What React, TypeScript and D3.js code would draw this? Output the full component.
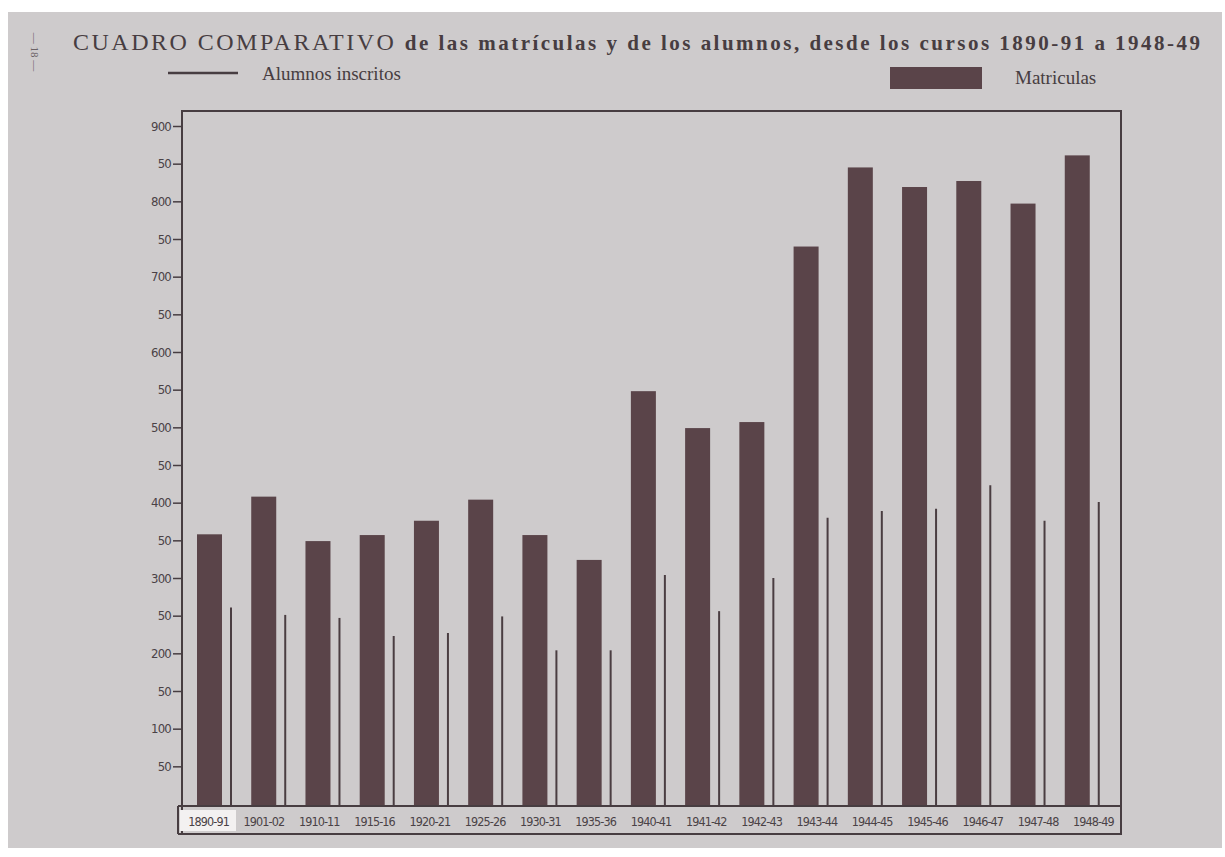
import * as d3 from "d3";
import { useEffect, useRef } from "react";

// cursos escolares
const cursos = [
  "1890-91", "1901-02", "1910-11", "1915-16", "1920-21", "1925-26",
  "1930-31", "1935-36", "1940-41", "1941-42", "1942-43", "1943-44",
  "1944-45", "1945-46", "1946-47", "1947-48", "1948-49",
];

// matriculas (barras)
const matriculas = [358, 408, 349, 357, 376, 404, 357, 324, 548, 499, 507, 740, 845, 819, 827, 797, 861];

// alumnos inscritos (lineas finas)
const alumnos = [261, 251, 247, 223, 227, 249, 204, 204, 304, 256, 300, 380, 389, 392, 423, 376, 401];

const yTicks = [50, 100, 150, 200, 250, 300, 350, 400, 450, 500, 550, 600, 650, 700, 750, 800, 850, 900];

const App = () => {
  const svgRef = useRef<SVGSVGElement>(null);

  useEffect(() => {
    const svg = d3.select(svgRef.current);
    svg.selectAll("*").remove();

    const width = 1225;
    const height = 857;
    const ink = "#473d41";
    const barColor = "#5a4449";
    const serif = "'Liberation Serif', 'DejaVu Serif', serif";
    const cond = "'DejaVu Sans Condensed', 'DejaVu Sans', sans-serif";

    svg.attr("width", width).attr("height", height);

    // paper
    svg.append("rect").attr("width", width).attr("height", height).attr("fill", "#ffffff");
    svg.append("rect")
      .attr("x", 8).attr("y", 12).attr("width", 1214).attr("height", 836)
      .attr("fill", "#cecbcc");

    const left = 182;
    const right = 1121;
    const top = 111;
    const bottom = 806;

    const y = d3.scaleLinear().domain([0, 900]).range([804, 126]);
    const x = d3.scaleBand<string>().domain(cursos).range([186, 1108]);
    const xLabel = d3.scaleBand<string>().domain(cursos).range([181, 1121]);

    // title
    const title = svg.append("text")
      .attr("x", 73).attr("y", 50)
      .attr("fill", ink)
      .style("font-family", serif)
      .attr("textLength", 1127)
      .attr("lengthAdjust", "spacing");
    title.append("tspan").style("font-size", "24px").text("CUADRO COMPARATIVO ");
    title.append("tspan").style("font-size", "21px").style("font-weight", "bold")
      .text("de las matrículas y de los alumnos, desde los cursos 1890-91 a 1948-49");

    // page number
    svg.append("text")
      .attr("transform", "translate(31,52) rotate(90)")
      .attr("text-anchor", "middle")
      .attr("fill", "#6a6266")
      .style("font-family", serif)
      .style("font-size", "11px")
      .text("— 18 —");

    // legend
    svg.append("line")
      .attr("x1", 168).attr("x2", 238).attr("y1", 73).attr("y2", 73)
      .attr("stroke", ink).attr("stroke-width", 2.5);
    svg.append("text")
      .attr("x", 262).attr("y", 80)
      .attr("fill", ink)
      .style("font-family", serif).style("font-size", "19px")
      .text("Alumnos inscritos");
    svg.append("rect")
      .attr("x", 890).attr("y", 67).attr("width", 92).attr("height", 22)
      .attr("fill", barColor);
    svg.append("text")
      .attr("x", 1015).attr("y", 84)
      .attr("fill", ink)
      .style("font-family", serif).style("font-size", "19px")
      .text("Matriculas");

    // plot frame
    svg.append("rect")
      .attr("x", left).attr("y", top)
      .attr("width", right - left).attr("height", 834 - top)
      .attr("fill", "none").attr("stroke", ink).attr("stroke-width", 2);

    // label strip
    svg.append("rect")
      .attr("x", 180).attr("y", 810).attr("width", 56).attr("height", 21)
      .attr("fill", "#f3f1f1");
    svg.append("line")
      .attr("x1", 178).attr("x2", right).attr("y1", bottom).attr("y2", bottom)
      .attr("stroke", ink).attr("stroke-width", 2);
    svg.append("line")
      .attr("x1", 178).attr("x2", right).attr("y1", 834).attr("y2", 834)
      .attr("stroke", ink).attr("stroke-width", 2);
    svg.append("line")
      .attr("x1", 178).attr("x2", 178).attr("y1", bottom).attr("y2", 834)
      .attr("stroke", ink).attr("stroke-width", 2);

    // y axis
    const yAxis = d3.axisLeft(y)
      .tickValues(yTicks)
      .tickSize(9)
      .tickPadding(2)
      .tickFormat((d) => ((d as number) % 100 === 0 ? String(d) : "50"));
    const ga = svg.append("g").attr("transform", `translate(${left},0)`).call(yAxis);
    ga.select(".domain").remove();
    ga.selectAll(".tick line").attr("stroke", ink).attr("stroke-width", 1.5);
    ga.selectAll(".tick text")
      .attr("fill", "#4a4246")
      .style("font-family", cond)
      .style("font-size", "13px")
      .attr("letter-spacing", "-0.8px");

    // bars
    svg.append("g")
      .selectAll("rect")
      .data(cursos)
      .enter()
      .append("rect")
      .attr("x", (d) => (x(d) as number) + 11)
      .attr("width", 25)
      .attr("y", (d, i) => y(matriculas[i]))
      .attr("height", (d, i) => y(0) - y(matriculas[i]) + 1)
      .attr("fill", barColor);

    // alumnos lines
    svg.append("g")
      .selectAll("line")
      .data(cursos)
      .enter()
      .append("line")
      .attr("x1", (d) => (x(d) as number) + 45)
      .attr("x2", (d) => (x(d) as number) + 45)
      .attr("y1", (d, i) => y(alumnos[i]))
      .attr("y2", y(0) + 1)
      .attr("stroke", "#4a3d41")
      .attr("stroke-width", 2);

    // x labels
    svg.append("g")
      .selectAll("text")
      .data(cursos)
      .enter()
      .append("text")
      .attr("x", (d) => (xLabel(d) as number) + xLabel.bandwidth() / 2)
      .attr("y", 826)
      .attr("text-anchor", "middle")
      .attr("fill", "#4a4246")
      .style("font-family", cond)
      .style("font-size", "12.5px")
      .attr("letter-spacing", "-0.9px")
      .text((d) => d);
  }, []);

  return (
    <svg
      ref={svgRef}
      style={{ position: "absolute", left: 0, top: 0, display: "block" }}
    ></svg>
  );
};

export default App;
